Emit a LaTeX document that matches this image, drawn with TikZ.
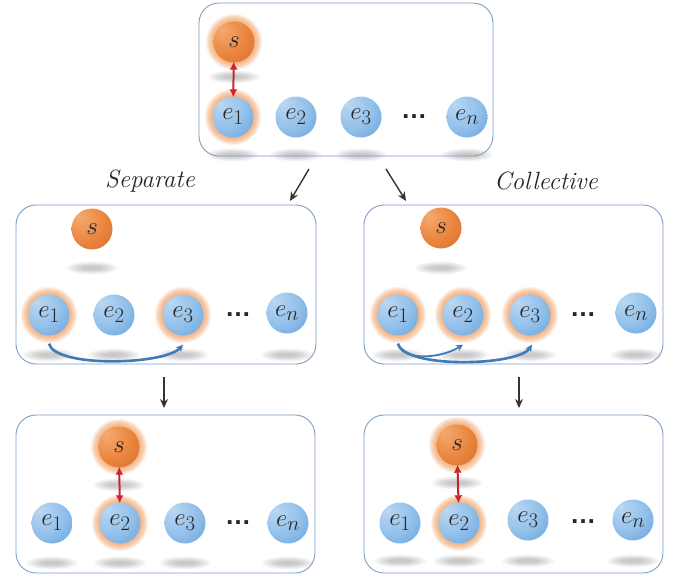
\documentclass[tikz,border=0pt]{standalone}
\usepackage{fontspec}
\usetikzlibrary{arrows.meta,calc}
\newfontfamily\dotsfont{Liberation Sans}

\definecolor{boxline}{HTML}{7F9CC4}
\definecolor{bA}{HTML}{B9D8F3}
\definecolor{bB}{HTML}{93C0EA}
\definecolor{bC}{HTML}{5498D8}
\definecolor{bD}{HTML}{1F66B2}
\definecolor{oA}{HTML}{F4AA70}
\definecolor{oB}{HTML}{EA8640}
\definecolor{oC}{HTML}{D06524}
\definecolor{oD}{HTML}{A24612}
\definecolor{glowc}{HTML}{F39A58}
\definecolor{linkred}{HTML}{C8262B}
\definecolor{linkblue}{HTML}{3F7BB8}
\definecolor{txt}{HTML}{262626}

% sphere-like fills, lit from the upper left
\pgfdeclareradialshading{bluesph}{\pgfpoint{-16bp}{16bp}}{%
  color(0bp)=(bA); color(25bp)=(bB); color(52bp)=(bC); color(72bp)=(bD)}
\pgfdeclareradialshading{orangesph}{\pgfpoint{-16bp}{16bp}}{%
  color(0bp)=(oA); color(25bp)=(oB); color(52bp)=(oC); color(72bp)=(oD)}

\tikzset{
  ent/.style={circle, minimum size=41pt, inner sep=0pt, shading=bluesph,
    font=\fontsize{28}{30}\selectfont, text=txt},
  src/.style={ent, shading=orangesph},
  dotsnode/.style={inner sep=0pt, font=\dotsfont\bfseries\fontsize{26}{28}\selectfont, text=txt},
  panel/.style={draw=boxline, line width=0.9pt, rounded corners=20pt},
  redlink/.style={draw=linkred, line width=2pt, {Latex[length=8pt,width=8pt]}-{Latex[length=8pt,width=8pt]},
    shorten <=-1pt, shorten >=-1pt},
  bluelink/.style={draw=linkblue, line width=2.6pt, -{Stealth[length=7pt,width=7pt]}},
  flow/.style={draw=black!80, line width=1.4pt, -{Stealth[length=9pt,width=8pt]}},
  caption/.style={font=\fontsize{25}{27}\selectfont\itshape, text=txt}
}

% blurred floor shadow: stacked translucent ellipses
\newcommand\floorsh[2]{%
  \foreach \k in {1,...,7} {\fill[black, opacity=0.032] (#1,#2) ellipse ({8pt+2.6pt*\k} and {1.2pt+0.75pt*\k});}}
% soft glow around an active entity: stacked translucent discs
\newcommand\glowat[2]{%
  \foreach \r in {21,...,28} {\fill[glowc, opacity=0.14] (#1,#2) circle (\r pt);}}

\begin{document}
\begin{tikzpicture}[x=1pt,y=-1pt]
\useasboundingbox (0,0) rectangle (673,576);
\fill[white] (0,0) rectangle (673,576);

% ---------------- top panel ----------------
\floorsh{234}{77}
\foreach \x in {233,296,361,467} {\floorsh{\x}{155}}
\glowat{234}{42}
\glowat{233}{117}
\draw[panel] (199,3) rectangle (493,156);
\node[src] (s0) at (234,42) {$s$};
\node[ent] (a1) at (233,117) {$e_1$};
\node[ent] (a2) at (296,117) {$e_2$};
\node[ent] (a3) at (361,117) {$e_3$};
\node[dotsnode] (ad) at (414,117) {…};
\node[ent] (an) at (467,117) {$e_n$};
\draw[redlink] (s0) -- (a1);

% ---------------- captions and branching arrows ----------------
\node[caption] (lsep) at (150,181) {Separate};
\node[caption] (lcol) at (546,181) {Collective};
\coordinate (fl0) at (309,169);
\coordinate (fl1) at (290,201);
\coordinate (fr0) at (386,169);
\coordinate (fr1) at (406,201);
\draw[flow] (fl0) -- (fl1);
\draw[flow] (fr0) -- (fr1);

% ---------------- middle left: separate ----------------
\floorsh{92}{268}
\foreach \x in {49,114,183,287} {\floorsh{\x}{355}}
\glowat{49}{315}
\glowat{183}{315}
\draw[panel] (16,205) rectangle (316,364);
\node[src] (s1) at (92,229) {$s$};
\node[ent] (b1) at (49,315) {$e_1$};
\node[ent] (b2) at (114,315) {$e_2$};
\node[ent] (b3) at (183,315) {$e_3$};
\node[dotsnode] (bd) at (238,315) {…};
\node[ent] (bn) at (287,313) {$e_n$};
\draw[bluelink] ($(b1.south)+(0,8)$) .. controls (55,368) and (165,365) .. ($(b3.south)+(0,9)$);

% ---------------- middle right: collective ----------------
\floorsh{441}{268}
\foreach \x in {398,463,530,636} {\floorsh{\x}{355}}
\glowat{398}{315}
\glowat{463}{315}
\glowat{530}{315}
\draw[panel] (364,205) rectangle (663,364);
\node[src] (s2) at (441,228) {$s$};
\node[ent] (c1) at (398,315) {$e_1$};
\node[ent] (c2) at (463,315) {$e_2$};
\node[ent] (c3) at (530,315) {$e_3$};
\node[dotsnode] (cd) at (583,315) {…};
\node[ent] (cn) at (636,313) {$e_n$};
\draw[bluelink, line width=1.8pt] ($(c1.south)+(0,8)$) .. controls (402,361) and (440,359) .. ($(c2.south)+(0,9)$);
\draw[bluelink] ($(c1.south)+(0,8)$) .. controls (405,369) and (518,366) .. ($(c3.south)+(2,9)$);

% ---------------- downward arrows ----------------
\coordinate (dl0) at (164,377);
\coordinate (dl1) at (164,408);
\coordinate (dr0) at (519,377);
\coordinate (dr1) at (519,408);
\draw[flow] (dl0) -- (dl1);
\draw[flow] (dr0) -- (dr1);

% ---------------- bottom left ----------------
\floorsh{119}{485}
\foreach \x in {52,120,185,288} {\floorsh{\x}{563}}
\glowat{119}{447}
\glowat{120}{523}
\draw[panel] (16,415) rectangle (315,573);
\node[src] (s3) at (119,447) {$s$};
\node[ent] (d1) at (52,523) {$e_1$};
\node[ent] (d2) at (120,523) {$e_2$};
\node[ent] (d3) at (185,523) {$e_3$};
\node[dotsnode] (dd) at (238,523) {…};
\node[ent] (dn) at (288,523) {$e_n$};
\draw[redlink] (s3) -- (d2);

% ---------------- bottom right ----------------
\floorsh{457}{483}
\foreach \x in {400,459,528,633} {\floorsh{\x}{561}}
\glowat{457}{445}
\glowat{459}{523}
\draw[panel] (364,415) rectangle (663,573);
\node[src] (s4) at (457,445) {$s$};
\node[ent] (f1) at (400,523) {$e_1$};
\node[ent] (f2) at (459,523) {$e_2$};
\node[ent] (f3) at (528,520) {$e_3$};
\node[dotsnode] (fd) at (583,522) {…};
\node[ent] (fn) at (633,520) {$e_n$};
\draw[redlink] (s4) -- (f2);
\end{tikzpicture}
\end{document}
